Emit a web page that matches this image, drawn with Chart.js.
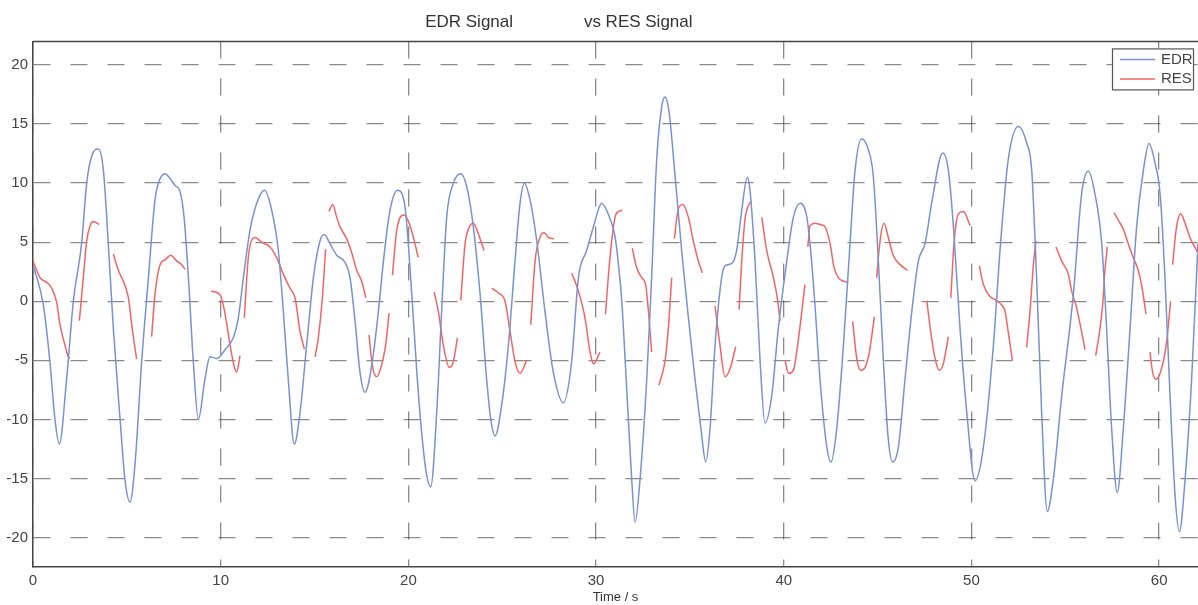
<!DOCTYPE html>
<html>
<head>
<meta charset="utf-8">
<title>EDR vs RES</title>
<script src="https://cdn.jsdelivr.net/npm/chart.js@4.4.0/dist/chart.umd.min.js"></script>
<style>
body { margin: 0; background: #fff; }
#wrap { width: 1198px; height: 605px; position: relative; }
</style>
</head>
<body>
<div id="wrap"><canvas id="signals"></canvas></div>
<script>
// EDR signal (blue)
var edrTime = [0, 0.55, 0.9, 1.17, 1.4, 1.79, 2.15, 2.59, 2.86, 3.13, 3.48, 3.75, 4.01, 4.28, 4.64, 4.9, 5.17, 5.44, 5.79, 6.15,
  6.5, 6.68, 7.03, 7.3, 7.57, 7.83, 8.05, 8.28, 8.54, 8.81, 9.16, 9.43, 9.79, 10.23, 10.67, 10.94, 11.21, 11.56, 11.92, 12.33,
  12.72, 13.07, 13.34, 13.6, 13.92, 14.23, 14.58, 14.94, 15.29, 15.52, 15.83, 16.18, 16.62, 16.89, 17.16, 17.42, 17.69, 18.05, 18.4, 18.67,
  19.02, 19.43, 19.82, 20.18, 20.45, 20.7, 20.95, 21.19, 21.51, 21.77, 22.04, 22.4, 22.79, 23.11, 23.46, 23.82, 24.17, 24.39, 24.62, 24.97, 25.33,
  25.68, 25.95, 26.18, 26.48, 26.84, 27.28, 27.72, 28.26, 28.7, 29.06, 29.5, 29.86, 30.3, 30.74, 31.01, 31.2, 31.37, 31.55, 31.72, 31.9, 32.08, 32.34,
  32.7, 32.96, 33.23, 33.5, 33.67, 33.89, 34.21, 34.56, 34.92, 35.27, 35.59, 35.84, 36.07, 36.34, 36.69, 36.87, 37.23, 37.49, 37.76, 38.06,
  38.2, 38.47, 38.74, 39.0, 39.36, 39.71, 40.16, 40.51, 40.87, 41.22, 41.45, 41.67, 41.93, 42.29, 42.52, 42.82, 43.18, 43.53, 43.8, 44.15,
  44.51, 44.77, 45.04, 45.31, 45.57, 45.8, 46.11, 46.46, 46.82, 47.17, 47.53, 47.88, 48.47, 48.77, 49.04, 49.39, 49.75, 50.19, 50.64, 51.17,
  51.55, 51.96, 52.5, 52.94, 53.21, 53.47, 53.74, 54.04, 54.36, 54.81, 55.43, 55.87, 56.23, 56.58, 56.94, 57.2, 57.47, 57.77, 58.09, 58.45,
  58.8, 59.16, 59.46, 59.78, 60.05, 60.31, 60.58, 60.85, 61.08, 61.38, 61.73, 62.07];
var edrValue = [3.1, -0.3, -5.1, -10, -12.1, -6.6, 0, 4.9, 10, 12.3, 12.9, 11.1, 4.9, -2.3, -10, -15.1, -17, -13.7, -5.1, 2.0,
  8.6, 10, 10.8, 10.4, 9.8, 9.3, 7.1, 2, -5.1, -10, -6.6, -4.7, -4.85, -4.1, -3.1, -1.4, 2, 6, 8.3, 9.4,
  7.7, 4.3, -0.9, -6.6, -12.1, -9.4, -3.7, 2, 5.1, 5.65, 4.85, 3.9, 3.3, 2, -1.7, -6, -7.7, -5.4, -0.9, 3.4,
  7.7, 9.4, 8, 0.6, -6, -11, -14.5, -15.7, -9.4, -0.9, 7.1, 10, 10.8, 9.7, 6.3, 0.6, -6.6, -10, -11.4, -8.8, -3.7,
  3.4, 8.3, 10, 8.6, 5.1, -0.9, -6, -8.6, -5.1, 2, 4.3, 6.3, 8.3, 7.0, 5.5, 3, 0, -5, -10, -15.1, -18.7, -15.1,
  -6.6, 2, 12, 16.5, 17.3, 16, 10.6, 4.3, -1.4, -6.6, -10.8, -13.6, -10.8, -3.7, 2, 3, 3.2, 4.3, 7.7, 10.5,
  9.4, 3.4, -5.1, -10.3, -8, -2.3, 3.4, 7.1, 8.3, 7.2, 4.0, -0.5, -6.6, -12.3, -13.6, -10.8, -3.7, 4.9, 11.1, 13.75,
  12.8, 10.6, 3.4, -5.1, -11.7, -13.6, -12.3, -6.6, -0.9, 3.4, 4.9, 8.3, 12.55, 11.1, 6.3, -2.3, -9.4, -15.2, -12.3, -3.7,
  4.9, 12, 14.8, 13.4, 11.1, 2, -9.4, -17.8, -15.1, -8, 0.6, 9.1, 11.0, 9.1, 4.9, -2.3, -10.8, -16.2, -10.8, -2.3,
  6.3, 11.1, 13.35, 11.7, 9.1, 2, -8, -16.5, -19.5, -15.1, -6.6, 4.9];

// RES signal (red), broken into pieces; null marks a gap
var resTime = [0, 0.2, 0.37, 0.73, 1.0, 1.26, 1.44, 1.7, 1.88, 1.97, 2.2,
  2.47, 2.68, 2.86, 3.04, 3.22, 3.53, 3.9,
  4.28, 4.55, 4.81, 5.08, 5.31, 5.52, 5.9,
  6.32, 6.5, 6.77, 7.03, 7.34, 7.66, 7.92, 8.1, 8.8,
  9.49, 9.96, 10.2, 10.5, 10.73, 10.85, 11.03, 11.15,
  11.26, 11.47, 11.83, 12.18, 12.63, 12.98, 13.34, 13.69, 13.96, 14.23, 14.46, 14.7,
  15.03, 15.2, 15.42, 15.59, 15.68,
  15.77, 15.97, 16.18, 16.36, 16.71, 16.98, 17.25, 17.51, 17.73, 17.8,
  17.9, 18.08, 18.31, 18.54, 18.79, 18.97, 19.06,
  19.15, 19.38, 19.77, 20.09, 20.53, 20.9,
  21.37, 21.6, 21.86, 22.18, 22.4, 22.61, 22.7,
  22.79, 23.02, 23.28, 23.46, 23.73, 24.03, 24.2,
  24.44, 24.79, 25.15, 25.42, 25.68, 25.95, 26.3, 26.4,
  26.52, 26.75, 27.01, 27.23, 27.46, 27.76, 28.2,
  28.7, 29.06, 29.41, 29.68, 29.86, 30.21, 30.35,
  30.5, 30.74, 31.01, 31.2, 31.4, 31.6,
  31.93, 32.16, 32.43, 32.64, 32.79, 32.96, 33.15,
  33.35, 33.67, 33.85, 34.03, 34.1,
  34.17, 34.38, 34.62, 34.92, 35.18, 35.45, 35.66, 36.0,
  36.34, 36.6, 36.87, 37.14, 37.44, 37.53,
  37.62, 37.76, 37.94, 38.26, 38.5,
  38.83, 39.09, 39.45, 39.68, 39.8, 39.93,
  40.07, 40.25, 40.51, 40.74, 41.13, 41.2,
  41.28, 41.4, 41.67, 41.93, 42.2, 42.47, 42.68, 42.91, 43.18, 43.44, 43.55,
  43.67, 43.89, 44.1, 44.33, 44.56, 44.83, 44.9,
  44.95, 45.13, 45.34, 45.57, 45.84, 46.2, 46.59, 47.1,
  47.62, 47.83, 48.06, 48.29, 48.5, 48.77, 48.83,
  48.9, 49.07, 49.3, 49.57, 49.93, 50.2,
  50.42, 50.64, 50.99, 51.35, 51.6, 51.79, 51.96, 52.18, 52.5,
  52.94, 53.12, 53.3, 53.44, 54.0,
  54.5, 54.81, 55.16, 55.34, 55.61, 55.87, 56.05, 56.3,
  56.62, 56.8, 56.99, 57.11, 57.24, 57.4,
  57.59, 57.83, 58.09, 58.36, 58.62, 58.89, 59.12, 59.3, 59.4,
  59.51, 59.65, 59.83, 60.13, 60.4, 60.61, 60.66,
  60.72, 60.9, 61.15, 61.38, 61.64, 62.07];
var resValue = [3.4, 2.6, 2.0, 1.6, 1.1, -0.1, -2.0, -3.7, -4.7, -4.85, null,
  -1.65, 2.0, 5.1, 6.4, 6.75, 6.5, null,
  4.0, 2.6, 1.7, 0.3, -2.6, -4.9, null,
  -3.0, 0.6, 3.1, 3.5, 3.9, 3.4, 3.1, 2.7, null,
  0.86, 0.57, -0.8, -3.7, -5.6, -6.0, -4.6, null,
  -1.4, 3.7, 5.4, 5.0, 4.6, 3.7, 2.3, 1.1, 0.3, -2.6, -4.05, null,
  -4.7, -3.1, 0.3, 4.4, null,
  7.6, 8.2, 7.1, 6.3, 5.3, 4.1, 2.6, 1.7, 0.3, null,
  -2.85, -5.4, -6.4, -5.6, -3.7, -1.0, null,
  2.2, 6.0, 7.3, 6.4, 3.7, null,
  0.8, -0.9, -3.7, -5.6, -5.1, -3.1, null,
  0.06, 4.85, 6.4, 6.6, 5.7, 4.3, null,
  1.1, 0.7, 0, -2.6, -5.1, -6.1, -5.0, null,
  -2.0, 3.4, 5.4, 5.8, 5.4, 5.3, null,
  2.4, 0.86, -1.4, -4.3, -5.3, -4.3, null,
  -1.1, 3.7, 7.1, 7.6, 7.7, null,
  4.5, 2.85, 2.0, 1.4, -0.86, -4.3, null,
  -7.1, -5.1, -2.3, 2.0, null,
  5.3, 7.8, 8.2, 7.1, 5.1, 3.4, 2.4, null,
  -0.4, -3.7, -6.4, -5.7, -3.85, null,
  -0.7, 3.4, 7.0, 8.5, null,
  7.1, 4.3, 2.0, 0, -1.7, null,
  -5.0, -6.1, -5.85, -3.7, 1.4, null,
  4.6, 6.4, 6.6, 6.5, 6.3, 4.85, 2.85, 2.0, 1.7, 1.6, null,
  -1.7, -4.85, -5.85, -5.6, -4.3, -1.3, null,
  2.0, 5.1, 6.6, 5.4, 3.85, 3.1, 2.6, null,
  0.06, -2.6, -4.85, -5.85, -5.3, -3.0, null,
  0.3, 4.85, 7.4, 7.6, 6.4, null,
  3.0, 1.4, 0.4, 0.06, -0.3, -0.86, -2.6, -5.0, null,
  -3.9, -0.86, 3.1, 5.1, null,
  4.6, 3.4, 2.3, 0.86, -0.6, -2.6, -4.1, null,
  -4.6, -2.85, -0.3, 2.6, 4.6, null,
  7.5, 6.85, 6.1, 4.85, 3.7, 2.6, 0.86, -1.1, null,
  -4.3, -6.0, -6.6, -5.7, -3.4, 0, null,
  3.1, 6.0, 7.4, 6.6, 5.4, 4.1];

var xTickStep = 10;
var yTickStep = 5;

function toPoints(t, v) {
  return t.map(function (x, i) { return { x: x, y: v[i] }; });
}

var fontFamily = "'Liberation Sans', Arial, Helvetica, sans-serif";
Chart.defaults.font.family = fontFamily;

// box round the plot top + legend box in the top right corner
var frameAndLegend = {
  id: 'frameAndLegend',
  afterDraw: function (chart) {
    var ctx = chart.ctx, a = chart.chartArea;
    ctx.save();
    ctx.strokeStyle = '#444';
    ctx.lineWidth = 1.5;
    ctx.beginPath();
    ctx.moveTo(a.left, a.top);
    ctx.lineTo(a.right, a.top);
    ctx.stroke();

    var bx = a.right - 86, by = a.top + 7, bw = 81, bh = 41;
    ctx.fillStyle = '#fff';
    ctx.fillRect(bx, by, bw, bh);
    ctx.strokeStyle = '#555';
    ctx.lineWidth = 1.2;
    ctx.strokeRect(bx + 0.5, by + 0.5, bw, bh);
    ctx.font = '15px ' + fontFamily;
    ctx.textBaseline = 'middle';
    chart.data.datasets.forEach(function (ds, i) {
      var ly = by + 11 + i * 19.5;
      ctx.strokeStyle = ds.borderColor;
      ctx.lineWidth = 1.5;
      ctx.beginPath();
      ctx.moveTo(bx + 8, ly);
      ctx.lineTo(bx + 43, ly);
      ctx.stroke();
      ctx.fillStyle = '#444';
      ctx.fillText(ds.label, bx + 49, ly);
    });
    ctx.restore();
  }
};

var gridColor = 'rgba(60,60,60,0.6)';

var ctx = document.getElementById('signals').getContext('2d');
var chart = new Chart(ctx, {
  type: 'line',
  data: {
    datasets: [{
      label: 'EDR',
      data: toPoints(edrTime, edrValue),
      borderColor: '#7891d2',
      borderWidth: 1.5,
      pointRadius: 0,
      cubicInterpolationMode: 'monotone'
    }, {
      label: 'RES',
      data: toPoints(resTime, resValue),
      borderColor: '#f26464',
      borderWidth: 1.5,
      pointRadius: 0,
      spanGaps: false,
      cubicInterpolationMode: 'monotone'
    }]
  },
  options: {
    responsive: true,
    maintainAspectRatio: false,
    animation: false,
    layout: { padding: 0 },
    plugins: {
      legend: { display: false },
      tooltip: { enabled: false },
      title: {
        display: true,
        text: 'EDR Signal               vs RES Signal                 ',
        color: '#333',
        font: { size: 17, weight: 'normal' },
        padding: { top: 12, bottom: 9 }
      }
    },
    scales: {
      x: {
        type: 'linear',
        min: 0,
        max: 62.07,
        ticks: { stepSize: xTickStep, includeBounds: false, color: '#444', font: { size: 15 }, padding: 5, maxRotation: 0 },
        grid: { color: gridColor, lineWidth: 1.3, drawTicks: false },
        border: { display: true, color: '#444', width: 1.5, dash: [17, 20] },
        title: { display: true, text: 'Time / s', color: '#333', font: { size: 13 }, padding: { top: 0, bottom: 0 } },
        afterFit: function (s) { s.height = 38; }
      },
      y: {
        min: -22.5,
        max: 22,
        ticks: { stepSize: yTickStep, includeBounds: false, color: '#444', font: { size: 15 }, padding: 5 },
        grid: { color: gridColor, lineWidth: 1.3, drawTicks: false },
        border: { display: true, color: '#444', width: 1.5, dash: [17, 20] },
        afterFit: function (s) { s.width = 33; }
      }
    }
  },
  plugins: [frameAndLegend]
});
</script>
</body>
</html>
